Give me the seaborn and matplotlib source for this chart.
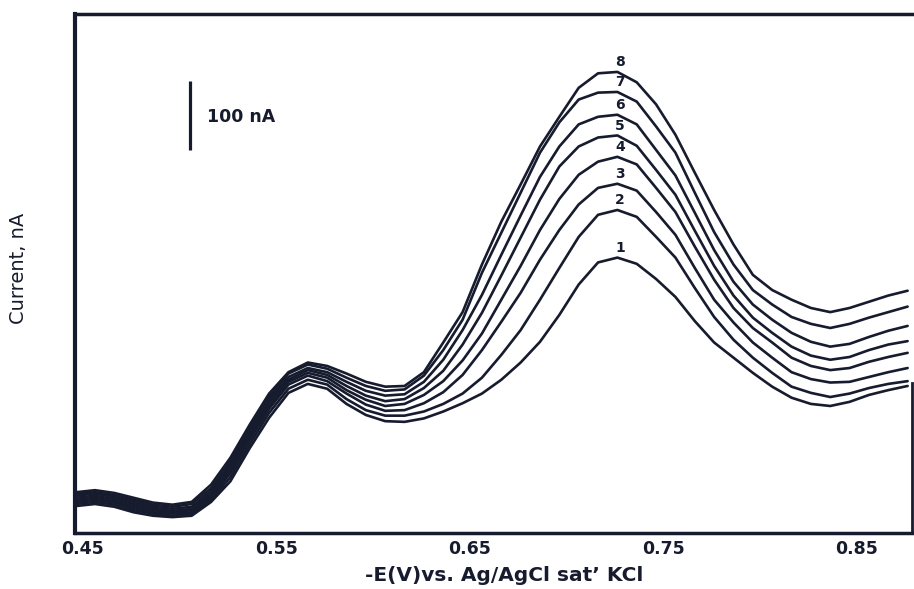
import matplotlib
matplotlib.use("Agg")
import numpy as np
import pandas as pd
import matplotlib.pyplot as plt
import matplotlib.transforms as mtransforms
import seaborn as sns

sns.set_style("white")

# =========================
# DATA
# potential in -E (V), current in nA
# =========================
potential = [0.45, 0.46, 0.47, 0.48, 0.49, 0.50, 0.51, 0.52, 0.53, 0.54,
             0.55, 0.56, 0.57, 0.58, 0.59, 0.60, 0.61, 0.62, 0.63, 0.64,
             0.65, 0.66, 0.67, 0.68, 0.69, 0.70, 0.71, 0.72, 0.73, 0.74,
             0.75, 0.76, 0.77, 0.78, 0.79, 0.80, 0.81, 0.82, 0.83, 0.84,
             0.85, 0.86, 0.87, 0.88]

curve_1 = [39, 42, 38, 30, 25, 23, 25, 45, 75, 123,
           167, 203, 216, 209, 187, 171, 162, 161, 166, 176,
           188, 202, 222, 247, 277, 316, 360, 392, 399, 390,
           368, 342, 307, 276, 254, 232, 212, 196, 187, 184,
           190, 200, 207, 213]
curve_2 = [42, 45, 41, 33, 28, 25, 28, 48, 81, 129,
           174, 209, 222, 215, 194, 178, 170, 170, 176, 187,
           202, 225, 258, 294, 338, 384, 429, 461, 468, 458,
           429, 399, 355, 313, 280, 254, 232, 212, 203, 197,
           202, 210, 216, 220]
curve_3 = [45, 48, 44, 36, 30, 28, 30, 51, 87, 135,
           180, 215, 228, 220, 202, 186, 177, 178, 188, 204,
           229, 265, 306, 348, 396, 439, 476, 500, 506, 496,
           465, 432, 384, 338, 305, 276, 254, 233, 223, 218,
           219, 226, 233, 239]
curve_4 = [48, 51, 46, 39, 33, 30, 33, 54, 91, 139,
           184, 219, 232, 225, 207, 193, 184, 187, 200, 220,
           250, 289, 338, 387, 439, 484, 519, 538, 545, 534,
           500, 465, 415, 367, 326, 297, 276, 254, 242, 236,
           239, 248, 255, 261]
curve_5 = [51, 54, 49, 42, 35, 32, 35, 57, 96, 144,
           189, 222, 236, 229, 213, 199, 191, 194, 210, 235,
           273, 319, 373, 428, 483, 531, 560, 573, 576, 561,
           526, 490, 438, 387, 344, 312, 290, 270, 257, 251,
           255, 265, 273, 278]
curve_6 = [54, 57, 52, 45, 38, 35, 38, 61, 100, 148,
           193, 226, 239, 233, 219, 206, 199, 201, 219, 251,
           294, 345, 403, 460, 516, 560, 592, 603, 606, 592,
           555, 518, 464, 410, 364, 331, 309, 290, 277, 270,
           274, 284, 293, 300]
curve_7 = [57, 59, 55, 48, 41, 38, 42, 65, 104, 152,
           197, 231, 244, 238, 225, 213, 206, 208, 228, 265,
           309, 377, 435, 493, 551, 595, 628, 638, 639, 625,
           589, 551, 493, 436, 389, 352, 331, 313, 303, 297,
           303, 312, 320, 328]
curve_8 = [59, 62, 58, 51, 44, 41, 45, 70, 109, 157,
           202, 233, 247, 242, 231, 219, 212, 213, 233, 276,
           320, 389, 451, 505, 560, 603, 645, 666, 668, 653,
           621, 577, 522, 468, 418, 374, 352, 338, 326, 320,
           326, 335, 344, 351]

curves = [curve_1, curve_2, curve_3, curve_4,
          curve_5, curve_6, curve_7, curve_8]
curve_names = ["1", "2", "3", "4", "5", "6", "7", "8"]

tick_values = [0.45, 0.55, 0.65, 0.75, 0.85]
tick_labels = ["0.45", "0.55", "0.65", "0.75", "0.85"]

# 100 nA scale bar
scale_E = 0.509
scale_base = 555
scale_len = 100

ink = "#161b2e"

# =========================
# LONG FORM TABLE
# =========================
rows = []
for name, vals in zip(curve_names, curves):
    for e, i in zip(potential, vals):
        rows.append({"E": e, "I": i, "curve": name})
df = pd.DataFrame(rows)

# =========================
# PLOT
# =========================
fig = plt.figure(figsize=(9.14, 5.89), dpi=100)
ax = fig.add_axes([0.0821, 0.0951, 0.9158, 0.8812])

sns.lineplot(data=df, x="E", y="I", units="curve", estimator=None,
             color=ink, linewidth=1.9, ax=ax, legend=False)
for ln in ax.get_lines():
    ln.set_solid_joinstyle("round")

# curve numbers above each peak
for name, vals in zip(curve_names, curves):
    k = int(np.argmax(vals))
    ax.annotate(name, (potential[k], vals[k]), xytext=(2, 7),
                textcoords="offset points", ha="center", va="center",
                fontsize=10, fontweight="bold", color=ink)

# scale bar
ax.plot([scale_E, scale_E], [scale_base, scale_base + scale_len],
        color=ink, linewidth=2.3, solid_capstyle="butt")
ax.text(scale_E + 0.009, scale_base + scale_len * 0.48, "100 nA",
        ha="left", va="center", fontsize=12.5, fontweight="bold",
        family="DejaVu Sans", color=ink)

ax.set_xlim(0.4497, 0.8823)
ax.set_ylim(0, 752)

ax.set_xticks(tick_values)
ax.set_xticklabels(tick_labels, fontsize=12.5, fontweight="bold",
                   family="DejaVu Sans", color=ink)
ax.tick_params(axis="x", direction="in", length=6, width=2.5,
               color=ink, pad=5)
ax.set_yticks([])

# labels in the scan sit a little right of their tick marks
shift = mtransforms.ScaledTranslation(7 / 100, 0, fig.dpi_scale_trans)
for tick in ax.xaxis.get_major_ticks():
    tick.label1.set_transform(tick.label1.get_transform() + shift)

ax.set_xlabel("-E(V)vs. Ag/AgCl sat\u2019 KCl", fontsize=14.5,
              fontweight="bold", family="DejaVu Sans", color=ink)
ax.xaxis.set_label_coords(0.513, -0.064)
ax.xaxis.label.set_va("top")
ax.set_ylabel("Current, nA", fontsize=14,
              family=["Liberation Sans Narrow", "DejaVu Sans"], color=ink)
ax.yaxis.set_label_coords(-0.056, 0.509)

for side, lw in [("left", 3.0), ("bottom", 2.5), ("top", 2.5), ("right", 2.0)]:
    ax.spines[side].set_visible(True)
    ax.spines[side].set_color(ink)
    ax.spines[side].set_linewidth(lw)
ax.spines["right"].set_bounds(0, 217)

fig.savefig("out.png", dpi=100)
plt.close(fig)
